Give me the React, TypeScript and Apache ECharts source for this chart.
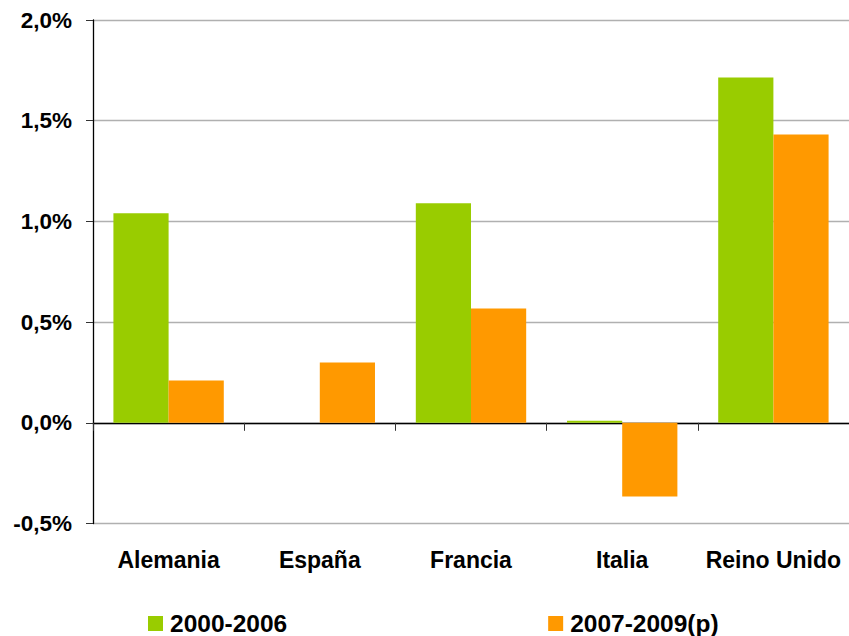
import React, { useEffect, useRef } from "react";
import * as echarts from "echarts";

const categories = ["Alemania", "España", "Francia", "Italia", "Reino Unido"];
const series2000_2006 = [1.04, 0, 1.09, 0.01, 1.715];
const series2007_2009 = [0.21, 0.3, 0.567, -0.366, 1.432];
const seriesNames = ["2000-2006", "2007-2009(p)"];
const yTicks = { min: -0.5, max: 2.0, interval: 0.5 };

const FONT = "'Liberation Sans', Arial, sans-serif";

export default function App() {
  const ref = useRef<HTMLDivElement>(null);
  useEffect(() => {
    document.body.style.margin = "0";
    const chart = echarts.init(ref.current!, null, { renderer: "svg" });
    chart.setOption({
      animation: false,
      backgroundColor: "#ffffff",
      grid: { left: 93, right: 0, top: 20, bottom: 112.5, containLabel: false },
      legend: {
        left: 148,
        top: 611,
        padding: 0,
        itemWidth: 15,
        itemHeight: 15,
        itemGap: 261,
        icon: "rect",
        textStyle: { fontFamily: FONT, fontWeight: "bold", fontSize: 24.5, color: "#000", padding: [0, 0, 0, 2] },
        data: seriesNames,
      },
      xAxis: [
        {
          type: "category",
          data: categories,
          position: "bottom",
          axisLine: { show: false, onZero: false },
          axisTick: { show: false },
          axisLabel: { interval: 0, hideOverlap: false, margin: 25, fontFamily: FONT, fontWeight: "bold", fontSize: 23, color: "#000" },
          splitLine: { show: false },
        },
        {
          type: "category",
          data: categories,
          position: "bottom",
          axisLine: { show: true, onZero: true, lineStyle: { color: "#000", width: 1.3 } },
          axisTick: { show: true, interval: 0, length: 8, inside: false, lineStyle: { color: "#333" } },
          axisLabel: { show: false },
          splitLine: { show: false },
        },
      ],
      yAxis: {
        type: "value",
        min: yTicks.min,
        max: yTicks.max,
        interval: yTicks.interval,
        axisLine: { show: true, lineStyle: { color: "#000", width: 1.3 } },
        axisTick: { show: true, length: 7, lineStyle: { color: "#333" } },
        axisLabel: {
          margin: 21,
          fontFamily: FONT,
          fontWeight: "bold",
          fontSize: 22.5,
          color: "#000",
          formatter: (v: number) => v.toFixed(1).replace(".", ",") + "%",
        },
        splitLine: { show: true, lineStyle: { color: "#b0b0b0", width: 1.3 } },
      },
      series: [
        {
          name: seriesNames[0],
          type: "bar",
          xAxisIndex: 0,
          data: series2000_2006,
          barGap: "0%",
          barCategoryGap: "27%",
          itemStyle: { color: "#99CC00" },
        },
        {
          name: seriesNames[1],
          type: "bar",
          xAxisIndex: 0,
          data: series2007_2009,
          barGap: "0%",
          barCategoryGap: "27%",
          itemStyle: { color: "#FF9900" },
        },
      ],
    });
    return () => chart.dispose();
  }, []);
  return (
    <div
      ref={ref}
      style={{ position: "absolute", left: 0, top: 0, width: 849, height: 636, background: "#fff" }}
    />
  );
}
